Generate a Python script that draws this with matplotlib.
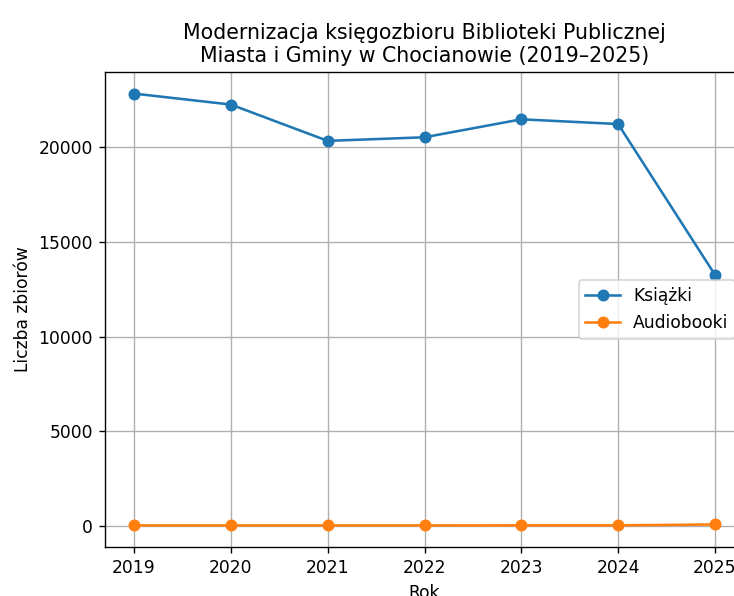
import matplotlib
matplotlib.use("Agg")
import matplotlib.pyplot as plt

years = [2019, 2020, 2021, 2022, 2023, 2024, 2025]
ksiazki = [22850, 22270, 20350, 20540, 21490, 21240, 13270]
audiobooki = [20, 20, 20, 20, 25, 25, 70]

DPI = 123
fig = plt.figure(figsize=(734/DPI, 596/DPI), dpi=DPI)
ax = fig.add_axes([105/734, 49/596, 639/734, 475/596])
ax.plot(years, ksiazki, marker='o', label='Książki')
ax.plot(years, audiobooki, marker='o', label='Audiobooki')
ax.set_title('Modernizacja księgozbioru Biblioteki Publicznej\nMiasta i Gminy w Chocianowie (2019–2025)', fontsize=12)
ax.set_xlabel('Rok')
ax.set_ylabel('Liczba zbiorów')
ax.set_xticks(years)
ax.grid(True)
ax.legend(loc='center right')
fig.savefig('out.png', dpi=DPI)
